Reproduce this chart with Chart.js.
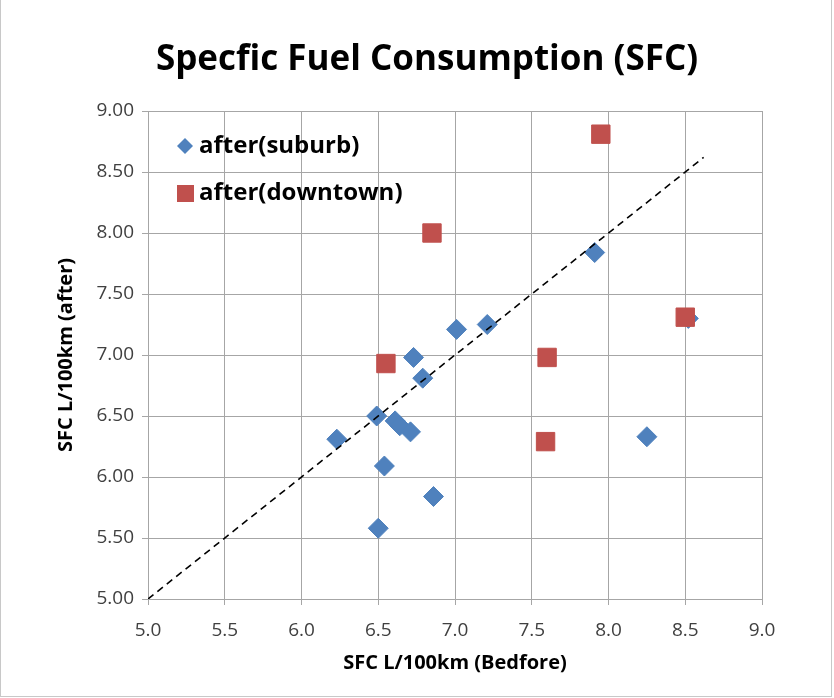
<!DOCTYPE html>
<html>
<head>
<meta charset="utf-8">
<script src="https://cdn.jsdelivr.net/npm/chart.js@4/dist/chart.umd.min.js"></script>
<style>
    body { margin: 0; background: #fff; }
    #wrap { position: relative; width: 834px; height: 698px; }
    #frame { position: absolute; left: 0; top: -2px; width: 830px; height: 697px; border: 1px solid #c8c8c8; pointer-events: none; }
</style>
</head>
<body>
<div id="wrap">
    <canvas id="sfcChart" width="834" height="698"></canvas>
    <div id="frame"></div>
</div>
<script>
// values
const suburbX = [6.23, 6.49, 6.50, 6.54, 6.61, 6.64, 6.71, 6.73, 6.79, 6.86, 7.01, 7.21, 7.91, 8.25, 8.52];
const suburbY = [6.31, 6.50, 5.58, 6.09, 6.46, 6.42, 6.37, 6.98, 6.81, 5.84, 7.21, 7.25, 7.84, 6.33, 7.30];
const downtownX = [6.55, 6.85, 7.59, 7.60, 7.95, 8.50];
const downtownY = [6.93, 8.00, 6.29, 6.98, 8.81, 7.31];
const refLineX = [5.0, 8.62];
const refLineY = [5.0, 8.62];
const seriesNames = ['after(suburb)', 'after(downtown)'];

const BLUE = '#4f81bd';
const RED = '#c0504d';
const GRID = '#a6a6a6';
const FONT = '"Open Sans", "Liberation Sans", sans-serif';

const toPoints = (xs, ys) => xs.map((x, i) => ({ x, y: ys[i] }));

// legend sits inside the plot, top-left, like the Excel original
const insideLegend = {
    id: 'insideLegend',
    afterDraw(chart) {
        const { ctx, chartArea } = chart;
        const x0 = chartArea.left + 37;
        const rows = [chartArea.top + 35, chartArea.top + 82];
        ctx.save();
        ctx.font = 'bold 24px ' + FONT;
        ctx.textBaseline = 'middle';

        ctx.fillStyle = BLUE;
        ctx.beginPath();
        ctx.moveTo(x0, rows[0] - 8);
        ctx.lineTo(x0 + 8, rows[0]);
        ctx.lineTo(x0, rows[0] + 8);
        ctx.lineTo(x0 - 8, rows[0]);
        ctx.closePath();
        ctx.fill();

        ctx.fillStyle = RED;
        ctx.fillRect(x0 - 8, rows[1] - 8, 17, 17);

        ctx.fillStyle = '#000';
        ctx.fillText(seriesNames[0], x0 + 14, rows[0]);
        ctx.fillText(seriesNames[1], x0 + 14, rows[1]);
        ctx.restore();
    }
};

const ctx = document.getElementById('sfcChart').getContext('2d');
const chart = new Chart(ctx, {
    type: 'scatter',
    data: {
        datasets: [
            { label: seriesNames[0], data: toPoints(suburbX, suburbY), pointStyle: 'rectRot', pointRadius: 10, pointHoverRadius: 10, backgroundColor: BLUE, borderColor: BLUE, borderWidth: 1, order: 2 },
            { label: seriesNames[1], data: toPoints(downtownX, downtownY), pointStyle: 'rect', pointRadius: 13, pointHoverRadius: 13, backgroundColor: RED, borderColor: RED, borderWidth: 1, order: 1 },
            { type: 'line', label: 'y = x', data: toPoints(refLineX, refLineY), borderColor: '#000', borderWidth: 1.6, borderDash: [7, 5], pointRadius: 0, fill: false, order: 0 }
        ]
    },
    options: {
        responsive: false,
        devicePixelRatio: 1,
        animation: false,
        layout: { padding: { left: 20, right: 0, top: 0, bottom: 0 } },
        plugins: {
            legend: { display: false },
            tooltip: { enabled: false },
            title: {
                display: true,
                text: 'Specfic Fuel Consumption (SFC)',
                color: '#000',
                font: { family: FONT, size: 35, weight: 'bold' },
                padding: { top: 39, bottom: 30 }
            }
        },
        scales: {
            x: {
                type: 'linear', min: 5, max: 9,
                ticks: { stepSize: 0.5, padding: 14, color: '#404040', font: { family: FONT, size: 19 }, callback: v => v.toFixed(1) },
                grid: { color: GRID, tickLength: 6 },
                border: { color: GRID },
                title: { display: true, text: 'SFC L/100km (Bedfore)', color: '#000', font: { family: FONT, size: 20, weight: 'bold' }, padding: { top: 4, bottom: 23 } },
                afterFit: s => { s.height = 99; }
            },
            y: {
                type: 'linear', min: 5, max: 9,
                ticks: { stepSize: 0.5, padding: 8, color: '#404040', font: { family: FONT, size: 19 }, callback: v => v.toFixed(2) },
                grid: { color: GRID, tickLength: 6 },
                border: { color: GRID },
                title: { display: true, text: 'SFC L/100km (after)', color: '#000', font: { family: FONT, size: 20, weight: 'bold' }, padding: { top: 34, bottom: 4 } },
                afterFit: s => { s.width = 128; }
            },
            // empty right-hand strip so the plot ends where the original does
            pad: {
                type: 'linear', position: 'right', display: true,
                ticks: { display: false }, grid: { display: false }, border: { display: false },
                afterFit: s => { s.width = 72; }
            }
        }
    },
    plugins: [insideLegend]
});
</script>
</body>
</html>
